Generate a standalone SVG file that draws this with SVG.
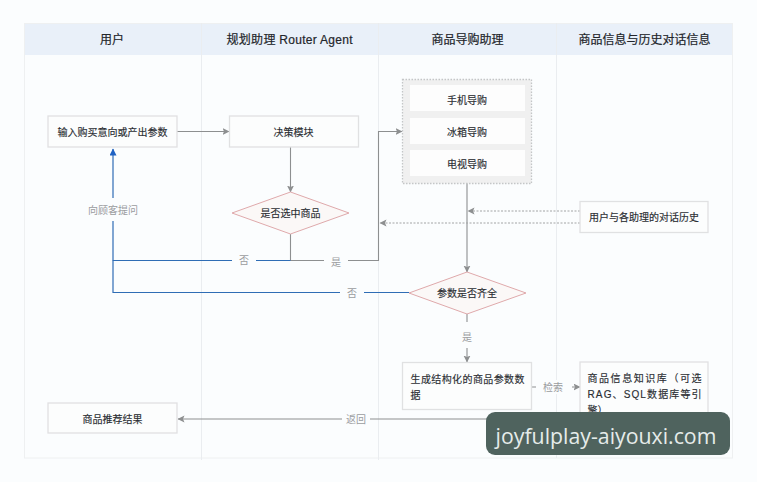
<svg xmlns="http://www.w3.org/2000/svg" width="757" height="482" viewBox="0 0 757 482">
<style>
text{font-family:"Liberation Sans","Noto Sans CJK SC",sans-serif;text-anchor:middle;dominant-baseline:central}
.head{font-size:12px;fill:#23262b;stroke:#23262b;stroke-width:.2}
.node{font-size:10px;fill:#2b2e33;stroke:#2b2e33;stroke-width:.15}
.left{text-anchor:start}
.box{fill:#fcfdfd;stroke:#e0e1e2;stroke-width:1.3}
.dia{fill:#fbf8f7;stroke:#dfa9ab;stroke-width:1}
.div{stroke:#eaedf0;stroke-width:1;fill:none}
.g{stroke:#8d8f90;stroke-width:1.1;fill:none}
.b{stroke:#2f6db5;stroke-width:1.2;fill:none}
.d{stroke:#a2a4a5;stroke-width:1;stroke-dasharray:2 1.5;fill:none}
.lab{font-size:10px;fill:#9a9c9e}
</style>
<defs>
<marker id="ag" markerWidth="8" markerHeight="8" refX="6.5" refY="3.5" orient="auto" markerUnits="userSpaceOnUse"><path d="M0 0L7 3.5L0 7L1.5 3.5Z" fill="#8d8f90"/></marker>
<marker id="ab" markerWidth="8" markerHeight="8" refX="6.5" refY="3.5" orient="auto" markerUnits="userSpaceOnUse"><path d="M0 0L7 3.5L0 7Z" fill="#1f62c4"/></marker>
</defs>
<rect width="757" height="482" fill="#fbfdfe"/>
<g id="swimlanes">
<rect x="24" y="23" width="709" height="32" fill="#e9f0f9"/>
<rect x="24.500" y="23.500" width="708" height="434.500" fill="none" stroke="#eef0f1"/>
<path class="div" d="M201.500 23V460M378.500 23V460M556.500 23V458"/>
<text class="head" x="112" y="39.500">用户</text>
<text class="head" x="289.500" y="39.500" textLength="126">规划助理 Router Agent</text>
<text class="head" x="467.500" y="39.500">商品导购助理</text>
<text class="head" x="644.500" y="39.500">商品信息与历史对话信息</text>
</g>
<g id="connectors">
<path class="g" d="M177 131.500H229" marker-end="url(#ag)"/>
<path class="g" d="M290.500 147V192" marker-end="url(#ag)"/>
<path class="g" d="M290.500 234V260.500H378.500V131.500H402" marker-end="url(#ag)"/>
<path class="b" d="M290.500 260.500H113V149" marker-end="url(#ab)"/>
<path class="b" d="M409 292.500H113V260.500"/>
<path class="g" d="M467 183V272" marker-end="url(#ag)"/>
<path class="d" d="M580 211H468" marker-end="url(#ag)"/>
<path class="d" d="M580 223H380" marker-end="url(#ag)"/>
<path class="g" d="M467 314V362" marker-end="url(#ag)"/>
<path class="g" d="M532 387H580" marker-end="url(#ag)"/>
<path class="g" d="M580 419H178" marker-end="url(#ag)"/>
<rect x="90" y="198" width="46" height="23" fill="#fbfdfe"/>
<text class="lab" x="113" y="210">向顾客提问</text>
<rect x="232" y="252" width="24" height="16" fill="#fbfdfe"/>
<text class="lab" x="244" y="260">否</text>
<rect x="324" y="252" width="24" height="16" fill="#fbfdfe"/>
<text class="lab" x="336" y="262">是</text>
<rect x="340" y="284" width="24" height="16" fill="#fbfdfe"/>
<text class="lab" x="352" y="293.500">否</text>
<rect x="458" y="322" width="18" height="26" fill="#fbfdfe"/>
<text class="lab" x="467" y="337">是</text>
<rect x="536" y="380" width="36" height="14" fill="#fbfdfe"/>
<text class="lab" x="553" y="387">检索</text>
<rect x="342" y="412" width="28" height="14" fill="#fbfdfe"/>
<text class="lab" x="356" y="419.500">返回</text>
</g>
<g id="n-input"><rect class="box" x="48" y="116" width="129" height="31"/><text class="node" x="112.500" y="132">输入购买意向或产出参数</text></g>
<g id="n-decide"><rect class="box" x="229.500" y="116" width="129" height="31"/><text class="node" x="293.500" y="132">决策模块</text></g>
<g id="n-diamond1"><path class="dia" d="M290.500 192L349 213L290.500 234L232 213Z"/><text class="node" x="290.500" y="213.500">是否选中商品</text></g>
<g id="n-group">
<rect x="402.500" y="79.500" width="129" height="104" fill="#f0f0f0" stroke="#c4c6c7" stroke-width="1.3" stroke-dasharray="1.500 1.500"/>
<rect x="410" y="85" width="115" height="26" fill="#fdfdfd"/><text class="node" x="467" y="100">手机导购</text>
<rect x="410" y="118" width="115" height="26" fill="#fdfdfd"/><text class="node" x="467" y="132">冰箱导购</text>
<rect x="410" y="150" width="115" height="26" fill="#fdfdfd"/><text class="node" x="467" y="164">电视导购</text>
</g>
<g id="n-history"><rect class="box" x="580" y="201.500" width="128" height="31"/><text class="node" x="644" y="217.500">用户与各助理的对话历史</text></g>
<g id="n-diamond2"><path class="dia" d="M467 272L526 293L467 314L409 293Z"/><text class="node" x="467" y="293.500">参数是否齐全</text></g>
<g id="n-gen"><rect class="box" x="402.500" y="362.500" width="129" height="47"/>
<text class="node left" x="410.500" y="379" textLength="114">生成结构化的商品参数数</text><text class="node left" x="410.500" y="395">据</text></g>
<g id="n-kb"><rect class="box" x="580" y="362" width="128" height="62"/>
<text class="node left" x="587.500" y="378" textLength="114">商品信息知识库（可选</text><text class="node left" x="587.500" y="394" textLength="114">RAG、SQL数据库等引</text><text class="node left" x="587.500" y="410">擎）</text></g>
<g id="n-result"><rect class="box" x="48" y="403" width="129" height="30"/><text class="node" x="112.500" y="419">商品推荐结果</text></g>
<g id="watermark"><rect x="486" y="412" width="244" height="43" rx="9" fill="#4f635e"/><text x="606" y="435" font-size="21.300" fill="#e6ecea" style="font-family:'Open Sans','Noto Sans',sans-serif">joyfulplay-aiyouxi.com</text></g>
</svg>
